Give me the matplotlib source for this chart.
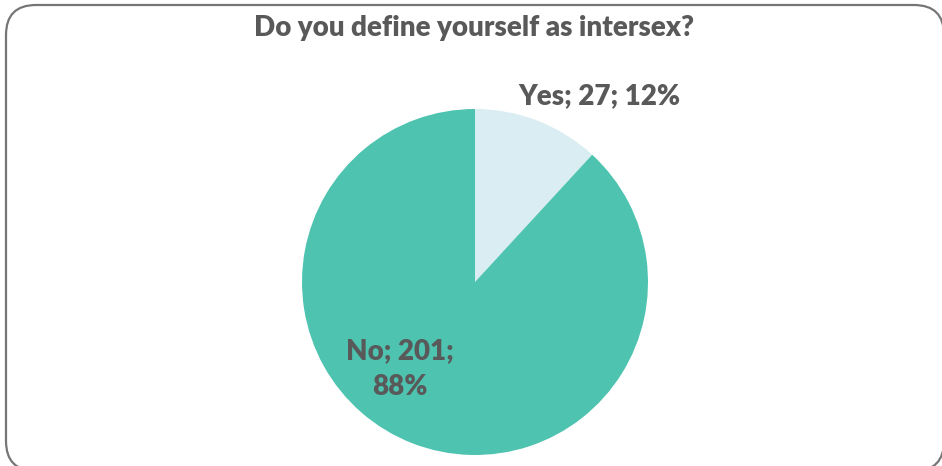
import matplotlib.pyplot as plt
from matplotlib.patches import FancyBboxPatch

labels = ['Yes', 'No']
counts = [27, 201]
percents = [12, 88]
colors = ['#DAEDF2', '#4DC3B0']
title = 'Do you define yourself as intersex?'

W, H = 942, 466
fig = plt.figure(figsize=(W / 100, H / 100), dpi=100)
ax = fig.add_axes([0, 0, 1, 1])

# rounded chart border, runs off the right/bottom edge like the source
box = FancyBboxPatch((6 + 30, -5 + 30), 938 - 60, 466 - 60,
                     boxstyle='round,pad=30', fc='white', ec='#767676', lw=1.6)
ax.add_patch(box)

ax.pie(counts, colors=colors, startangle=90, counterclock=False,
       center=(475, 184), radius=173, frame=True,
       wedgeprops=dict(linewidth=0))
ax.set_xlim(0, W)
ax.set_ylim(0, H)
ax.set_aspect('equal')
ax.axis('off')

txt = dict(color='#595959', fontweight='heavy', family=['Lato', 'DejaVu Sans'])
ax.text(474, 438, title, ha='center', va='center', fontsize=20, **txt)
ax.text(599, 370, '%s; %d; %d%%' % (labels[0], counts[0], percents[0]),
        ha='center', va='center', fontsize=20, **txt)
ax.text(400, 97, '%s; %d;\n%d%%' % (labels[1], counts[1], percents[1]),
        ha='center', va='center', fontsize=20, linespacing=1.45, **txt)

fig.savefig('out.png', dpi=100)
